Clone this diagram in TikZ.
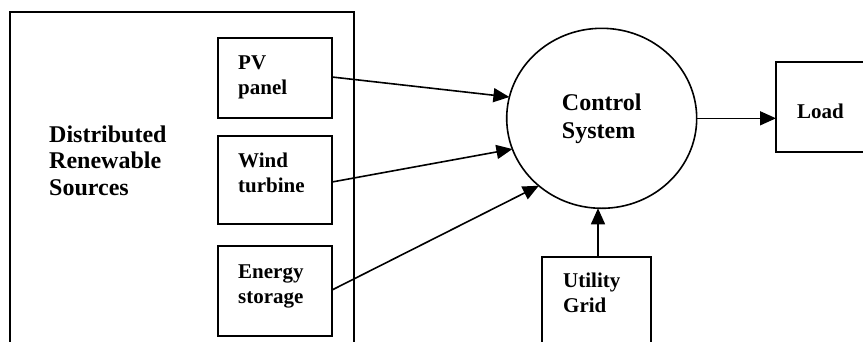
\documentclass[tikz,border=0pt]{standalone}
\usepackage{fontspec}
\setmainfont{Liberation Serif}
\usetikzlibrary{shapes.geometric,arrows.meta}
\begin{document}
\begin{tikzpicture}[x=1pt,y=-1pt,
  box/.style={draw, line width=1.6pt, inner sep=0pt, outer sep=0pt},
  small/.style={font=\fontsize{21}{25}\selectfont\bfseries, align=left, anchor=base west, inner sep=0pt},
  big/.style={font=\fontsize{24}{28}\selectfont\bfseries, align=left, inner sep=0pt},
  conn/.style={line width=1.6pt, -{Triangle[length=16pt,width=14pt]}}]
\useasboundingbox (0,0) rectangle (863,341);
\clip (0,0) rectangle (863,341);
% outer container
\node[box, minimum width=344pt, minimum height=348pt] (drs) at (182,186) {};
\node[big, anchor=base west, font=\fontsize{24}{26.5}\selectfont\bfseries] (tdrs) at (49,195) {Distributed\\Renewable\\Sources};
% source boxes
\node[box, minimum width=114pt, minimum height=80pt] (pv) at (275,78) {};
\node[box, minimum width=114pt, minimum height=88pt] (wind) at (275,180) {};
\node[box, minimum width=114pt, minimum height=90pt] (energy) at (275,291) {};
\node[small] (tpv) at (238,94) {PV\\panel};
\node[small] (twind) at (238,192) {Wind\\turbine};
\node[small] (tenergy) at (238,303) {Energy\\storage};
% control system
\node[box, ellipse, minimum width=190pt, minimum height=180pt, big] (cs) at (601.7,118.3) {Control\\System};
% load
\node[box, minimum width=104pt, minimum height=90pt] (load) at (828,107) {};
\node[small] (tload) at (797,118) {Load};
% utility grid
\node[box, minimum width=109pt, minimum height=103pt] (grid) at (596.5,308.5) {};
\node[small] (tgrid) at (563,312) {Utility\\Grid};
% connectors
\draw[conn] (pv.east |- 0,77) -- (cs.167.7);
\draw[conn] (wind.east |- 0,182) -- (cs.199.9);
\draw[conn] (energy.east |- 0,290) -- (cs.227.7);
\draw[conn] (cs.east) -- (cs.east -| load.west);
\draw[conn] (grid.north -| 598,0) -- (598,208.3);
\end{tikzpicture}
\end{document}
